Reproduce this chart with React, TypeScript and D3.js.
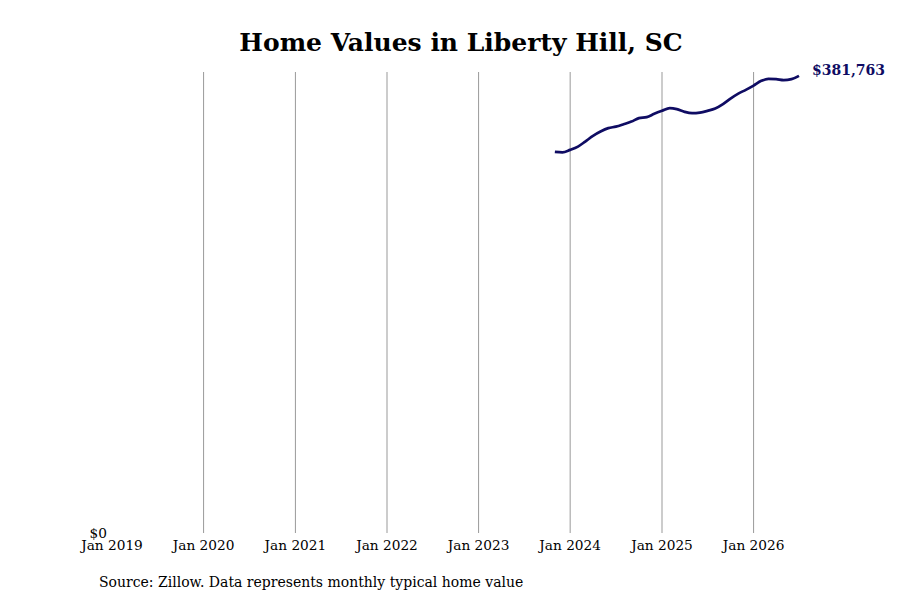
import React, { useEffect, useRef } from "react";
import * as d3 from "d3";

// monthly typical home value, Nov 2023 .. Jul 2026
const startMonth = "2023-11-01";
const homeValues = [
  318300, 317900, 319950, 322700, 326900, 331650, 335250, 338100, 339400,
  341400, 343600, 346450, 347300, 350050, 352550, 354800, 353950, 351700,
  350600, 351100, 352550, 354450, 358150, 362800, 367000, 370100, 373650,
  377600, 379250, 379000, 378200, 379000, 381763,
];
const tickYears = [2019, 2020, 2021, 2022, 2023, 2024, 2025, 2026];

const FONT = "'DejaVu Serif', serif";

export default function App() {
  const ref = useRef<SVGSVGElement>(null);

  useEffect(() => {
    document.body.style.margin = "0";
    if (!ref.current) return;
    const svg = d3.select(ref.current);
    svg.selectAll("*").remove();

    const width = 900;
    const height = 600;
    const margin = { top: 72, right: 101, bottom: 67, left: 112 };

    const start = new Date(startMonth + "T00:00:00");
    const data = homeValues.map((v, i) => ({
      date: d3.timeMonth.offset(start, i),
      value: v,
    }));

    const x = d3
      .scaleTime()
      .domain([new Date(2019, 0, 1), new Date(2026, 6, 1)])
      .range([margin.left, width - margin.right]);

    const y = d3
      .scaleLinear()
      .domain([0, 385000])
      .range([height - margin.bottom, margin.top]);

    // vertical grid lines
    svg
      .append("g")
      .selectAll("line")
      .data(tickYears.slice(1))
      .enter()
      .append("line")
      .attr("x1", (d) => x(new Date(d, 0, 1)))
      .attr("x2", (d) => x(new Date(d, 0, 1)))
      .attr("y1", margin.top)
      .attr("y2", height - margin.bottom)
      .attr("stroke", "#999")
      .attr("stroke-width", 1);

    // x tick labels
    svg
      .append("g")
      .selectAll("text")
      .data(tickYears)
      .enter()
      .append("text")
      .attr("x", (d) => x(new Date(d, 0, 1)))
      .attr("y", height - margin.bottom + 17)
      .attr("text-anchor", "middle")
      .style("font-family", FONT)
      .style("font-size", "13.7px")
      .attr("fill", "#000")
      .text((d) => `Jan ${d}`);

    // $0 label
    svg
      .append("text")
      .attr("x", margin.left - 5)
      .attr("y", y(0) + 5)
      .attr("text-anchor", "end")
      .style("font-family", FONT)
      .style("font-size", "13.7px")
      .text("$0");

    const line = d3
      .line<{ date: Date; value: number }>()
      .x((d) => x(d.date))
      .y((d) => y(d.value))
      .curve(d3.curveMonotoneX);

    svg
      .append("path")
      .datum(data)
      .attr("fill", "none")
      .attr("stroke", "#0f0c63")
      .attr("stroke-width", 2.7)
      .attr("d", line);

    const last = data[data.length - 1];
    svg
      .append("text")
      .attr("x", x(last.date) + 13)
      .attr("y", y(last.value) - 1)
      .style("font-family", FONT)
      .style("font-size", "14px")
      .style("font-weight", "bold")
      .attr("fill", "#0f0c63")
      .text(d3.format("$,")(last.value));

    svg
      .append("text")
      .attr("x", width / 2 + 11)
      .attr("y", 51)
      .attr("text-anchor", "middle")
      .style("font-family", FONT)
      .style("font-size", "25px")
      .style("font-weight", "bold")
      .text("Home Values in Liberty Hill, SC");

    svg
      .append("text")
      .attr("x", 99)
      .attr("y", 587)
      .style("font-family", FONT)
      .style("font-size", "14px")
      .text("Source: Zillow. Data represents monthly typical home value");
  }, []);

  return (
    <svg
      ref={ref}
      width={900}
      height={600}
      style={{ display: "block", background: "#fff" }}
    ></svg>
  );
}
